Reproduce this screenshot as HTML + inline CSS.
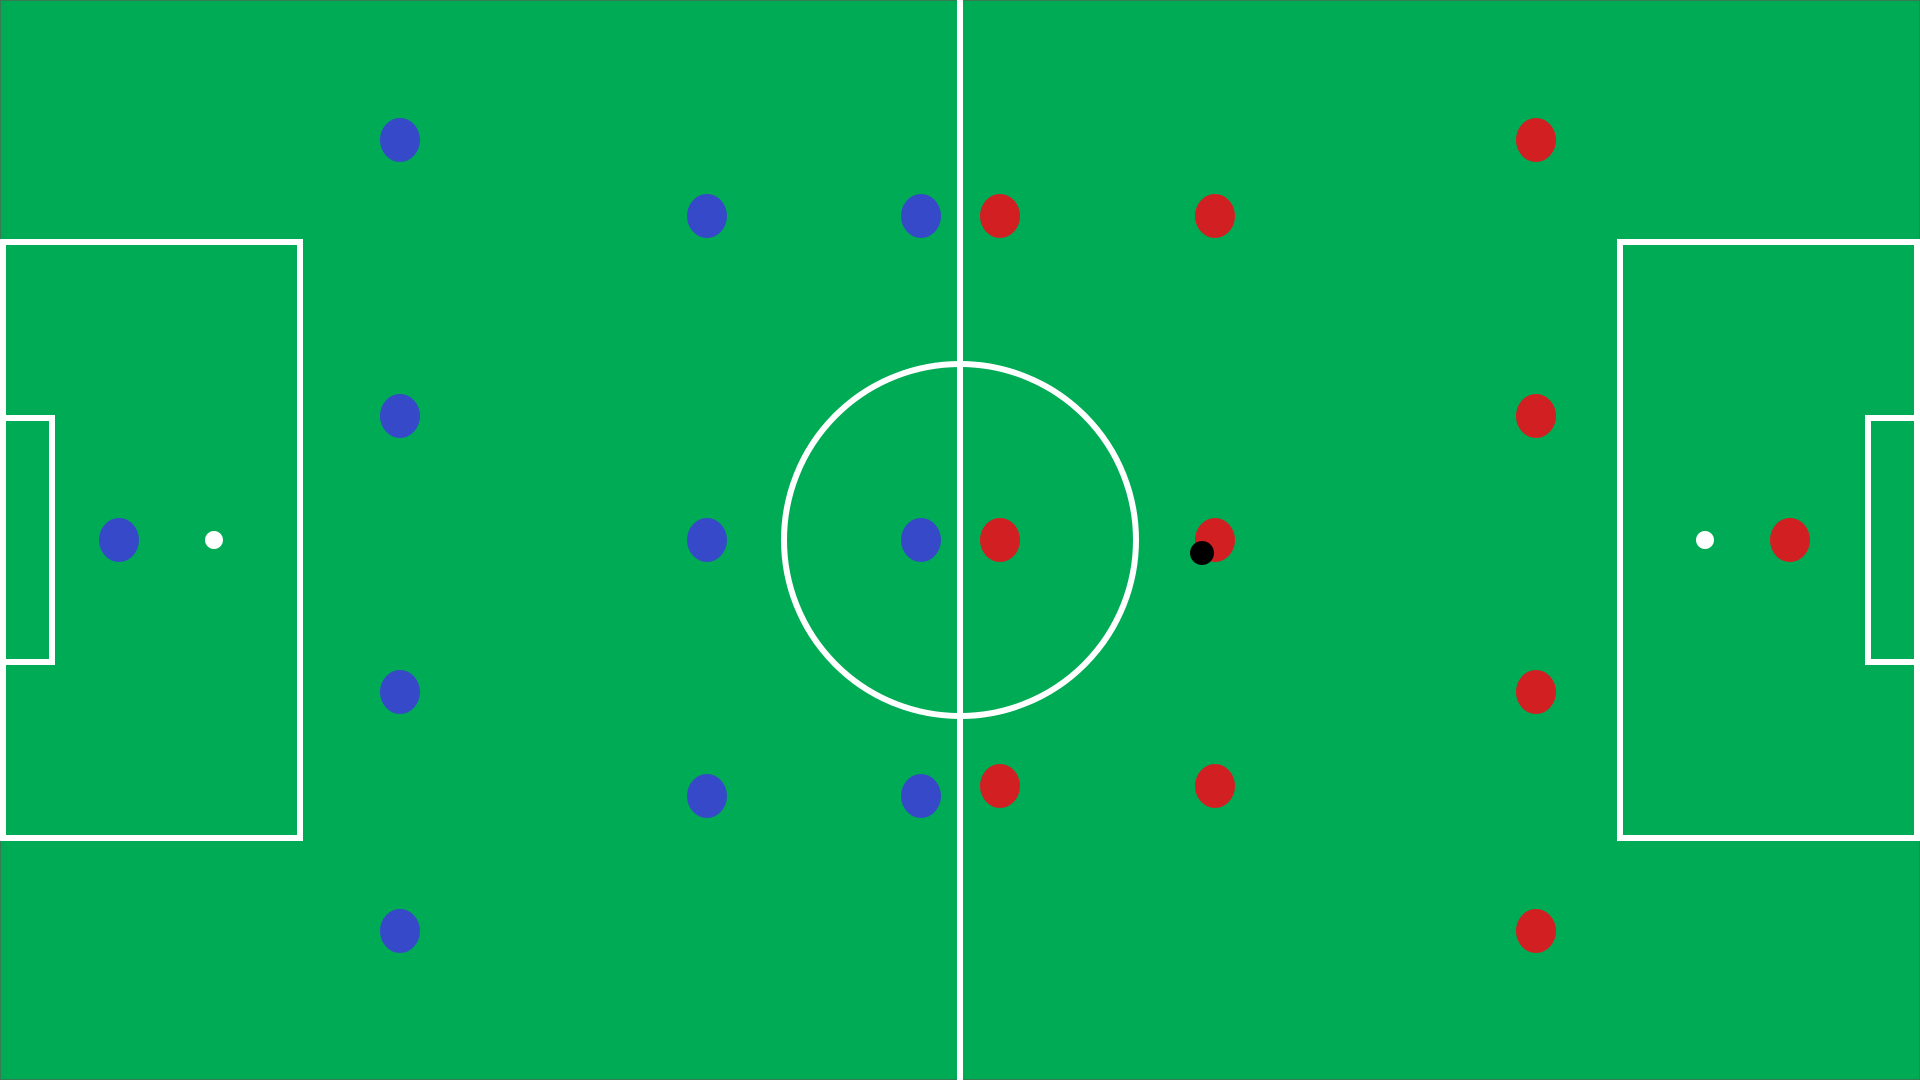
<!DOCTYPE html>
<html><head><meta charset="utf-8"><style>html,body{margin:0;padding:0;background:#00ab55;}svg{display:block}</style></head>
<body>
<svg width="1920" height="1080" viewBox="0 0 1920 1080">
<rect x="0" y="0" width="1920" height="1080" fill="#00ab56" stroke="#3a7a50" stroke-width="2"/>
<g fill="none" stroke="#fff" stroke-width="6">
<line x1="960" y1="0" x2="960" y2="1080"/>
<circle cx="960" cy="540" r="176"/>
<rect x="3" y="242" width="297" height="596"/>
<rect x="3" y="418" width="49" height="244"/>
<rect x="1620" y="242" width="297" height="596"/>
<rect x="1868" y="418" width="49" height="244"/>
</g>
<circle cx="214" cy="540" r="9" fill="#fff"/>
<circle cx="1705" cy="540" r="9" fill="#fff"/>
<g id="players"></g>
<circle cx="1202" cy="553" r="12" fill="#000"/>
</svg>
<script>
const blueX=[119,400,400,400,400,707,707,707,921,921,921];
const blueY=[540,140,416,692,931,216,540,796,216,540,796];
const redX=[1790,1536,1536,1536,1536,1215,1215,1215,1000,1000,1000];
const redY=[540,140,416,692,931,216,540,786,216,540,786];
const g=document.getElementById('players');
function add(x,y,c,i,team){
const e=document.createElementNS('http://www.w3.org/2000/svg','ellipse');
e.setAttribute('cx',x);e.setAttribute('cy',y);e.setAttribute('rx',20);e.setAttribute('ry',22);e.setAttribute('fill',c);


g.appendChild(e);}
blueX.forEach((x,i)=>add(x,blueY[i],'#3549c9',i,'blue'));
redX.forEach((x,i)=>add(x,redY[i],'#d21f22',i,'red'));
</script>
</body></html>
